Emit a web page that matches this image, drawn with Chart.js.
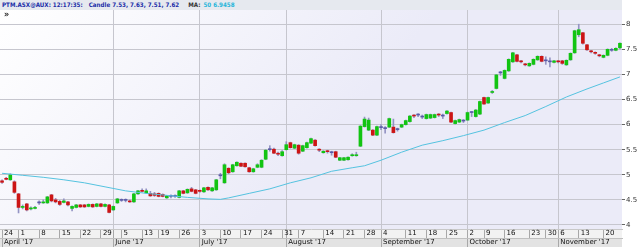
<!DOCTYPE html>
<html lang="en">
<head>
<meta charset="UTF-8">
<title>PTM.ASX candle chart</title>
<style>
  html, body { margin: 0; padding: 0; background: #fff; }
  #wrap { position: relative; width: 640px; height: 247px; }
  #hdr {
    position: absolute; left: 0; top: 0; width: 620px; height: 10px; padding-left: 2px;
    background: #e6e9ef; color: #1c2fa8; white-space: nowrap;
    font: bold 6.2px 'DejaVu Sans Condensed', 'DejaVu Sans', sans-serif; line-height: 10px;
  }
  #hdr .k { color: #333; margin-left: 9px; }
  #hdr .c { color: #2bb6da; margin-left: 3px; }
  #hdr .g { margin-left: 6px; }
  #more { position: absolute; left: 4px; top: 10px; font: bold 8px 'DejaVu Sans', sans-serif; color: #222; }
  canvas { position: absolute; left: 0; top: 0; }
</style>
</head>
<body>
<div id="wrap">
  <canvas id="myChart" width="640" height="247"></canvas>
  <div id="hdr">PTM.ASX@AUX: 12:17:35:<span class="g">Candle 7.53, 7.63, 7.51, 7.62</span><span class="k">MA:</span><span class="c">50 6.9458</span></div>
  <div id="more">&raquo;</div>
</div>

<script src="https://cdn.jsdelivr.net/npm/chart.js"></script>
<script>
    // daily candles, 24 Apr -> 22 Nov 2017
    const open = [4.88,4.93,4.90,4.86,4.62,4.35,4.42,4.32,4.33,4.44,4.44,4.44,4.60,4.50,4.47,4.45,4.46,4.33,4.35,4.40,
                  4.40,4.37,4.41,4.37,4.42,4.37,4.40,4.30,4.44,4.49,4.49,4.48,4.46,4.62,4.69,4.64,4.63,4.62,4.63,4.61,
                  4.54,4.57,4.57,4.55,4.68,4.64,4.72,4.70,4.68,4.66,4.75,4.68,4.70,4.98,4.84,5.13,5.06,5.18,5.23,5.23,
                  5.14,5.06,5.15,5.15,5.31,5.50,5.51,5.42,5.38,5.50,5.64,5.53,5.59,5.47,5.54,5.63,5.69,5.50,5.44,5.47,
                  5.44,5.46,5.29,5.29,5.30,5.38,5.38,5.57,5.96,5.89,5.89,5.79,5.94,5.92,5.95,5.95,5.90,5.95,6.00,6.06,
                  6.18,6.19,6.15,6.12,6.13,6.14,6.20,6.17,6.22,6.24,6.02,6.05,6.07,6.09,6.24,6.16,6.21,6.54,6.43,6.64,
                  6.72,7.03,6.92,7.07,7.25,7.39,7.26,7.20,7.17,7.20,7.29,7.36,7.27,7.25,7.24,7.26,7.27,7.19,7.29,7.43,
                  7.79,7.83,7.59,7.46,7.43,7.39,7.34,7.38,7.48,7.48,7.53];
    const high = [4.90,4.95,5.02,4.88,4.63,4.40,4.43,4.36,4.37,4.48,4.50,4.57,4.61,4.53,4.49,4.52,4.47,4.38,4.41,4.41,
                  4.41,4.42,4.42,4.43,4.43,4.42,4.41,4.38,4.53,4.52,4.52,4.50,4.63,4.69,4.72,4.72,4.67,4.65,4.64,4.62,
                  4.59,4.60,4.60,4.69,4.69,4.72,4.75,4.71,4.70,4.75,4.76,4.75,4.91,5.03,5.22,5.14,5.21,5.26,5.24,5.24,
                  5.15,5.13,5.22,5.30,5.50,5.58,5.53,5.45,5.48,5.66,5.65,5.61,5.60,5.59,5.65,5.73,5.70,5.52,5.48,5.49,
                  5.47,5.47,5.35,5.35,5.36,5.42,5.45,5.98,6.15,6.13,5.90,5.97,6.00,5.96,6.13,6.11,5.93,6.01,6.09,6.18,
                  6.20,6.22,6.19,6.21,6.21,6.21,6.22,6.21,6.28,6.25,6.09,6.11,6.10,6.25,6.26,6.30,6.47,6.55,6.55,6.68,
                  7.00,7.06,7.09,7.31,7.44,7.40,7.28,7.22,7.23,7.31,7.37,7.37,7.35,7.33,7.28,7.28,7.28,7.29,7.43,7.88,
                  8.00,7.84,7.60,7.48,7.45,7.40,7.39,7.51,7.52,7.53,7.63];
    const low  = [4.83,4.90,4.89,4.63,4.24,4.32,4.28,4.30,4.32,4.41,4.43,4.43,4.46,4.44,4.39,4.44,4.38,4.28,4.34,4.35,
                  4.35,4.36,4.35,4.36,4.36,4.36,4.24,4.29,4.43,4.47,4.46,4.45,4.45,4.61,4.66,4.63,4.57,4.57,4.56,4.56,
                  4.53,4.54,4.55,4.54,4.62,4.63,4.66,4.62,4.65,4.65,4.69,4.67,4.69,4.92,4.83,5.02,5.05,5.17,5.16,5.15,
                  5.05,5.05,5.14,5.14,5.30,5.47,5.42,5.38,5.37,5.49,5.53,5.52,5.41,5.46,5.53,5.62,5.57,5.46,5.43,5.43,
                  5.39,5.34,5.28,5.28,5.29,5.37,5.37,5.56,5.95,5.88,5.78,5.78,5.90,5.83,5.94,5.83,5.87,5.94,5.99,6.05,
                  6.14,6.16,6.12,6.11,6.12,6.13,6.16,6.12,6.21,6.04,6.01,6.04,6.04,6.08,6.16,6.15,6.20,6.40,6.42,6.62,
                  6.71,6.98,6.91,7.06,7.24,7.25,7.23,7.17,7.16,7.19,7.28,7.25,7.20,7.15,7.23,7.23,7.20,7.18,7.28,7.42,
                  7.75,7.60,7.48,7.43,7.40,7.35,7.33,7.37,7.46,7.47,7.51];
    const close = [4.85,4.91,5.00,4.65,4.35,4.37,4.30,4.34,4.35,4.44,4.46,4.56,4.48,4.46,4.41,4.48,4.40,4.37,4.40,4.36,
                  4.36,4.41,4.36,4.42,4.37,4.41,4.25,4.37,4.52,4.49,4.49,4.46,4.62,4.68,4.67,4.68,4.58,4.59,4.57,4.57,
                  4.58,4.57,4.57,4.68,4.63,4.71,4.67,4.63,4.67,4.74,4.70,4.74,4.90,4.98,5.20,5.04,5.20,5.25,5.17,5.16,
                  5.06,5.12,5.20,5.29,5.49,5.50,5.43,5.41,5.46,5.60,5.54,5.60,5.43,5.58,5.64,5.72,5.58,5.49,5.47,5.46,
                  5.44,5.35,5.34,5.34,5.35,5.40,5.39,5.97,6.11,6.09,5.79,5.96,5.94,5.92,6.12,5.84,5.90,6.00,6.08,6.17,
                  6.17,6.19,6.15,6.20,6.20,6.20,6.19,6.17,6.27,6.05,6.08,6.10,6.07,6.24,6.24,6.29,6.46,6.41,6.54,6.65,
                  6.99,7.03,7.08,7.30,7.43,7.26,7.25,7.19,7.22,7.30,7.36,7.26,7.27,7.25,7.27,7.25,7.22,7.28,7.42,7.87,
                  7.89,7.62,7.49,7.45,7.42,7.37,7.38,7.50,7.48,7.52,7.62];

    // 50 day moving average at a few days
    const maDay = [0, 5, 10, 15, 20, 25, 30, 35, 40, 45, 50, 53, 55, 60, 65, 70, 75, 80, 85, 88, 92, 97,
                   102, 107, 112, 117, 122, 127, 132, 137, 142, 146, 150];
    const maVal = [5.03, 4.99, 4.95, 4.90, 4.84, 4.76, 4.68, 4.63, 4.59, 4.55, 4.52, 4.51, 4.54, 4.63, 4.72, 4.84, 4.94, 5.07, 5.14, 5.18, 5.29, 5.45,
                   5.59, 5.68, 5.78, 5.89, 6.04, 6.18, 6.36, 6.55, 6.71, 6.83, 6.95];

    // axis labels
    const yTicks = [4, 4.5, 5, 5.5, 6, 6.5, 7, 7.5, 8];
    const weekDay = [0, 4, 9, 14, 19, 24, 29, 34, 38, 43, 48, 53, 58, 63, 68, 72, 78, 83, 88, 92, 98, 103, 108, 113, 117, 122, 128, 132, 135, 140, 146];
    const weekText = ['24', '1', '8', '15', '22', '29', '5', '13', '19', '26', '3', '10', '17', '24', '31', '7', '14', '21', '28', '4', '11', '18', '25', '2', '9', '16', '23', '30', '6', '13', '20'];
    const monthDay = [0, 27, 48, 69, 92, 113, 135];
    const monthText = ["April '17", "June '17", "July '17", "August '17", "September '17", "October '17", "November '17"];

    const days = open.map((v, i) => i);
    const bodies = days.map(i => [open[i], close[i]]);
    const wicks = days.map(i => [low[i], high[i]]);
    const bodyColors = days.map(i => close[i] > open[i] ? '#12c412' : (close[i] < open[i] ? '#cc1515' : '#5a5aa8'));
    const maPoints = maDay.map((d, k) => ({ x: d, y: maVal[k] }));

    const sepTicks = weekDay.concat(monthDay.filter(d => !weekDay.includes(d))).sort((a, b) => a - b);
    const smallFont = { family: "'DejaVu Sans'", size: 7 };

    const bgPlugin = {
        id: 'bg',
        beforeDraw(chart) {
            const { ctx, chartArea: a, scales } = chart;
            ctx.save();
            const g = ctx.createLinearGradient(a.left, a.top, a.right * 0.4, a.bottom);
            g.addColorStop(0, '#ffffff');
            g.addColorStop(1, '#ebebf8');
            ctx.fillStyle = g;
            ctx.fillRect(a.left, a.top, a.right - a.left, a.bottom - a.top);
            ctx.fillStyle = '#f2f2f2';
            ctx.fillRect(scales.x.left, scales.x.top, scales.x.width, scales.x.height);
            ctx.fillStyle = '#e3e3e3';
            ctx.fillRect(scales.x2.left, scales.x2.top, scales.x2.width, scales.x2.height);
            ctx.restore();
        }
    };

    const ctx = document.getElementById('myChart');

    new Chart(ctx, {
        type: 'bar',
        data: {
            labels: days,
            datasets: [
                {
                    type: 'line',
                    data: maPoints,
                    borderColor: '#55c3e0',
                    borderWidth: 1,
                    pointRadius: 0,
                    tension: 0,
                    order: 1
                },
                {
                    data: bodies,
                    backgroundColor: bodyColors,
                    barThickness: 3,
                    minBarLength: 1,
                    grouped: false,
                    order: 2
                },
                {
                    data: wicks,
                    backgroundColor: '#9494c4',
                    barThickness: 1,
                    grouped: false,
                    order: 3
                }
            ]
        },
        options: {
            responsive: false,
            animation: false,
            devicePixelRatio: 1,
            layout: { padding: { top: 10, left: 0, right: 0, bottom: 0 } },
            plugins: { legend: { display: false }, tooltip: { enabled: false } },
            scales: {
                x: {
                    offset: true,
                    weight: 0,
                    afterBuildTicks: s => { s.ticks = sepTicks.map(v => ({ value: v })); },
                    afterFit: s => { s.height = 9; },
                    grid: { drawOnChartArea: false, offset: false, tickLength: 9, tickColor: '#a8a8a8' },
                    border: { color: '#c8c8c8' },
                    ticks: {
                        autoSkip: false, maxRotation: 0, minRotation: 0, align: 'start',
                        padding: -9, labelOffset: 2, color: '#111', font: smallFont,
                        callback: v => { const k = weekDay.indexOf(v); return k < 0 ? '' : weekText[k]; }
                    }
                },
                x2: {
                    type: 'category',
                    position: 'bottom',
                    offset: true,
                    weight: 1,
                    afterBuildTicks: s => { s.ticks = monthDay.map(v => ({ value: v })); },
                    afterFit: s => { s.height = 9; },
                    grid: {
                        offset: false, tickLength: 9,
                        color: c => c.index === 0 ? 'rgba(0,0,0,0)' : '#c6c6ce',
                        tickColor: '#a8a8a8'
                    },
                    border: { color: '#c0c0c0' },
                    ticks: {
                        autoSkip: false, maxRotation: 0, minRotation: 0, align: 'start',
                        padding: -9, labelOffset: 2, color: '#111', font: smallFont,
                        callback: v => monthText[monthDay.indexOf(v)]
                    }
                },
                y: {
                    position: 'right',
                    min: 3.92,
                    max: 8.283,
                    afterBuildTicks: s => { s.ticks = yTicks.map(v => ({ value: v })); },
                    afterFit: s => { s.width = 18; },
                    grid: { color: '#c6c6ce', tickLength: 3, tickColor: '#666' },
                    border: { display: false },
                    ticks: { padding: 1, color: '#333', font: smallFont, callback: v => String(v) }
                }
            }
        },
        plugins: [bgPlugin]
    });
</script>
</body>
</html>
